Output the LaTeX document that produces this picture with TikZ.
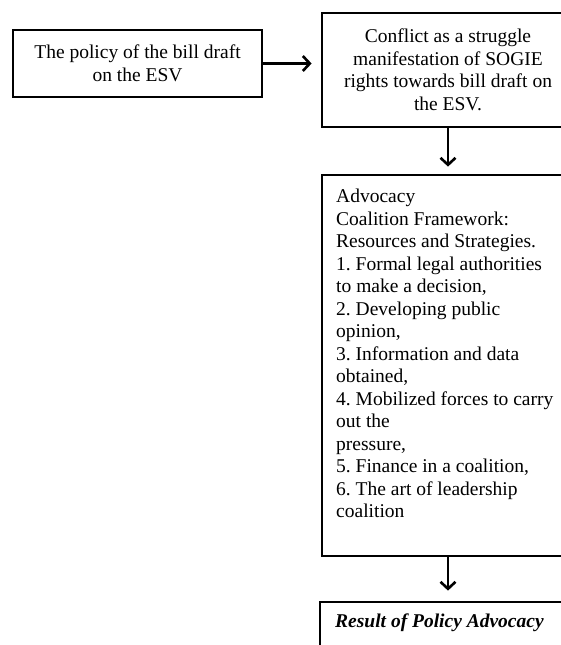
\documentclass[tikz,border=0pt]{standalone}
\usepackage{fontspec}
\setmainfont{Liberation Serif}
\usetikzlibrary{arrows.meta,calc}
\frenchspacing
\begin{document}
\begin{tikzpicture}[x=1pt,y=1pt,
  box/.style={draw=black,line width=2.8pt,inner sep=0pt,fill=none},
  txt/.style={font=\fontsize{19.5}{22.5}\selectfont\frenchspacing,inner sep=0pt},
  arr/.style={line width=2.2pt,-{Straight Barb[length=7pt,width=15pt,line width=2.6pt]}}]
\useasboundingbox (0,0) rectangle (561,-645);
\clip (0,0) rectangle (561,-645);
\node[box,minimum width=249pt,minimum height=67pt] (left) at (137.5,-63.5) {};
\node[txt,align=center] (lefttext) at (left.center) {The policy of the bill draft\\on the ESV};
\node[box,minimum width=252pt,minimum height=114pt] (conflict) at (448,-70) {};
\node[txt,align=center] (conflicttext) at (conflict.center) {Conflict as a struggle\\manifestation of SOGIE\\rights towards bill draft on\\the ESV.};
\node[box,minimum width=252pt,minimum height=381pt] (acf) at (448,-365.5) {};
\node[txt,align=left,anchor=north west] (acftext) at (336,-189) {Advocacy\\Coalition Framework:\\Resources and Strategies.\\1. Formal legal authorities\\to make a decision,\\2. Developing public\\opinion,\\3. Information and data\\obtained,\\4. Mobilized forces to carry\\out the\\pressure,\\5. Finance in a coalition,\\6. The art of leadership\\coalition};
\node[box,minimum width=256pt,minimum height=98pt] (result) at (448,-651) {};
\node[txt,align=left,anchor=north west] (resulttext) at (335,-614) {\textbf{\textit{Result of Policy Advocacy}}};
\draw[arr,shorten >=9pt] (left.east) -- (left.east -| conflict.west);
\draw[arr,shorten >=7pt] (conflict.south) -- (acf.north);
\draw[arr,shorten >=10pt] (acf.south) -- (result.north);
\end{tikzpicture}
\end{document}
